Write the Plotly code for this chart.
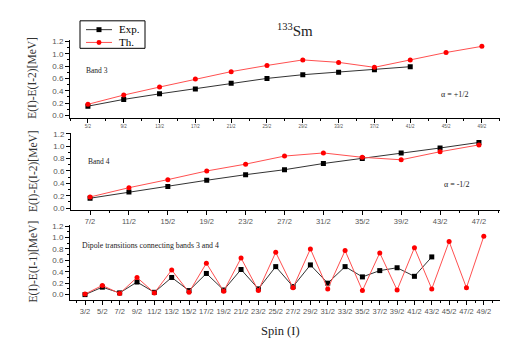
import plotly.graph_objects as go

W, H = 508, 338

# ---- data ----
b3_exp_spin = [2.5, 4.5, 6.5, 8.5, 10.5, 12.5, 14.5, 16.5, 18.5, 20.5]
b3_exp = [0.15, 0.26, 0.35, 0.43, 0.52, 0.60, 0.66, 0.70, 0.74, 0.79]
b3_th_spin = [2.5, 4.5, 6.5, 8.5, 10.5, 12.5, 14.5, 16.5, 18.5, 20.5, 22.5, 24.5]
b3_th = [0.18, 0.33, 0.46, 0.59, 0.71, 0.81, 0.90, 0.86, 0.78, 0.90, 1.02, 1.12]

b4_spin = [3.5, 5.5, 7.5, 9.5, 11.5, 13.5, 15.5, 17.5, 19.5, 21.5, 23.5]
b4_exp = [0.16, 0.26, 0.35, 0.45, 0.54, 0.62, 0.72, 0.80, 0.89, 0.97, 1.06]
b4_th = [0.18, 0.33, 0.46, 0.60, 0.71, 0.84, 0.89, 0.82, 0.78, 0.91, 1.02]

dip_exp_spin = [1.5, 2.5, 3.5, 4.5, 5.5, 6.5, 7.5, 8.5, 9.5, 10.5, 11.5, 12.5,
                13.5, 14.5, 15.5, 16.5, 17.5, 18.5, 19.5, 20.5, 21.5]
dip_exp = [0.00, 0.13, 0.03, 0.22, 0.04, 0.30, 0.07, 0.37, 0.08, 0.44, 0.10, 0.49,
           0.14, 0.52, 0.20, 0.49, 0.31, 0.42, 0.47, 0.32, 0.66]
dip_th_spin = [1.5, 2.5, 3.5, 4.5, 5.5, 6.5, 7.5, 8.5, 9.5, 10.5, 11.5, 12.5,
               13.5, 14.5, 15.5, 16.5, 17.5, 18.5, 19.5, 20.5, 21.5, 22.5, 23.5, 24.5]
dip_th = [0.01, 0.16, 0.02, 0.30, 0.03, 0.43, 0.04, 0.55, 0.06, 0.64, 0.07, 0.74,
          0.12, 0.80, 0.10, 0.77, 0.07, 0.73, 0.08, 0.82, 0.10, 0.93, 0.12, 1.02]

b3_ticks = [2.5 + 2 * i for i in range(12)]
b3_labels = ["5/2", "9/2", "13/2", "17/2", "21/2", "25/2", "29/2", "33/2", "37/2", "41/2", "45/2", "49/2"]
b4_ticks = [3.5 + 2 * i for i in range(11)]
b4_labels = ["7/2", "11/2", "15/2", "19/2", "23/2", "27/2", "31/2", "35/2", "39/2", "43/2", "47/2"]
dip_ticks = [1.5 + i for i in range(24)]
dip_labels = ["3/2", "5/2", "7/2", "9/2", "11/2", "13/2", "15/2", "17/2", "19/2", "21/2", "23/2", "25/2",
              "27/2", "29/2", "31/2", "33/2", "35/2", "37/2", "39/2", "41/2", "43/2", "45/2", "47/2", "49/2"]
y_ticks = [0.0, 0.2, 0.4, 0.6, 0.8, 1.0, 1.2]
y_labels = ["0.0", "0.2", "0.4", "0.6", "0.8", "1.0", "1.2"]
legend_names = ["Exp.", "Th."]

SERIF = "Liberation Serif, Times New Roman, serif"
SANS = "Liberation Sans, Arial, sans-serif"
BLACK = "#000000"
RED = "#ff0000"
EXP_LINE = "#333333"
TH_LINE = "#ff5050"

def px_x(p):
    return p / W

def px_y(p):
    return 1 - p / H

fig = go.Figure()

def add_pair(xs_e, ys_e, xs_t, ys_t, xa, ya):
    fig.add_trace(go.Scatter(x=xs_e, y=ys_e, mode="lines+markers", name=legend_names[0],
                             line=dict(color=EXP_LINE, width=1),
                             marker=dict(symbol="square", size=5, color=BLACK),
                             xaxis=xa, yaxis=ya, showlegend=False))
    fig.add_trace(go.Scatter(x=xs_t, y=ys_t, mode="lines+markers", name=legend_names[1],
                             line=dict(color=TH_LINE, width=1),
                             marker=dict(symbol="circle", size=5, color=RED),
                             xaxis=xa, yaxis=ya, showlegend=False))

add_pair(b3_exp_spin, b3_exp, b3_th_spin, b3_th, "x", "y")
add_pair(b4_spin, b4_exp, b4_spin, b4_th, "x2", "y2")
add_pair(dip_exp_spin, dip_exp, dip_th_spin, dip_th, "x3", "y3")

def xaxis(dom, rng, ticks, labels, minor_dt, minor_t0, fsize, anchor):
    return dict(domain=dom, range=rng, tickmode="array", tickvals=ticks, ticktext=labels,
                ticks="outside", ticklen=4, tickwidth=1, tickcolor=BLACK,
                showline=True, linecolor=BLACK, linewidth=1, showgrid=False, zeroline=False,
                tickfont=dict(family=SANS, size=fsize, color="#555555"), anchor=anchor,
                minor=dict(ticks="outside", dtick=minor_dt, tick0=minor_t0, ticklen=2,
                           tickcolor=BLACK, showgrid=False))

def yaxis(dom, rng, anchor):
    return dict(domain=dom, range=rng, tickmode="array", tickvals=y_ticks, ticktext=y_labels,
                ticks="outside", ticklen=4, tickwidth=1, tickcolor=BLACK,
                showline=True, linecolor=BLACK, linewidth=1, showgrid=False, zeroline=False,
                tickfont=dict(family=SANS, size=8, color="#555555"), anchor=anchor,
                minor=dict(ticks="outside", dtick=0.1, tick0=0, ticklen=2,
                           tickcolor=BLACK, showgrid=False))

fig.update_layout(
    width=W, height=H,
    margin=dict(l=0, r=0, t=0, b=0),
    paper_bgcolor="white", plot_bgcolor="white",
    xaxis=xaxis([px_x(62), px_x(507)], [1.5, 26.35], b3_ticks, b3_labels, 1, 1.5, 4.5, "y"),
    yaxis=yaxis([px_y(108.7), px_y(29.7)], [-0.038, 1.22], "x"),
    xaxis2=xaxis([px_x(63), px_x(497)], [2.52, 24.84], b4_ticks, b4_labels, 1, 1.5, 7.5, "y2"),
    yaxis2=yaxis([px_y(202.3), px_y(123.7)], [-0.025, 1.22], "x2"),
    xaxis3=xaxis([px_x(62), px_x(507)], [0.635, 26.3], dip_ticks, dip_labels, 0.5, 1.0, 7.5, "y3"),
    yaxis3=yaxis([px_y(294.3), px_y(217.8)], [-0.096, 1.22], "x3"),
    showlegend=False,
)

def note(text, x, y, size, xanchor="left", angle=0, color="#222222"):
    fig.add_annotation(text=text, x=px_x(x), y=px_y(y), xref="paper", yref="paper",
                       xanchor=xanchor, yanchor="middle", showarrow=False, textangle=angle,
                       font=dict(family=SERIF, size=size, color=color))

# y-axis titles
note("E(I)-E(I-2)[MeV]", 25, 68, 11.5, xanchor="center", angle=-90, color="#333333")
note("E(I)-E(I-2)[MeV]", 25, 163, 11.5, xanchor="center", angle=-90, color="#333333")
note("E(I)-E(I-1)[MeV]", 25, 255, 11.5, xanchor="center", angle=-90, color="#333333")

note("<sup>133</sup>Sm", 267, 19, 15)
note("Band 3", 76, 61, 7.5)
note("α = +1/2", 431, 85, 8)
note("Band 4", 78, 153, 7.5)
note("α = -1/2", 434, 177, 8)
note("Dipole transitions connecting bands 3 and 4", 72, 239, 7.8)
note("Spin (I)", 251, 326, 12.5)

# legend box (drawn in paper coords)
fig.add_shape(type="rect", xref="paper", yref="paper",
              x0=px_x(72), x1=px_x(137), y0=px_y(38), y1=px_y(10),
              line=dict(color=BLACK, width=1), fillcolor="white")
for yy, lc, mc, sym in [(19, EXP_LINE, BLACK, "square"), (32, TH_LINE, RED, "circle")]:
    fig.add_shape(type="line", xref="paper", yref="paper",
                  x0=px_x(78), x1=px_x(104), y0=px_y(yy), y1=px_y(yy),
                  line=dict(color=lc, width=1))
    fig.add_shape(type="rect" if sym == "square" else "circle", xref="paper", yref="paper",
                  x0=px_x(88.5), x1=px_x(93.5), y0=px_y(yy + 2.5), y1=px_y(yy - 2.5),
                  line=dict(color=mc, width=0), fillcolor=mc)
note(legend_names[0], 109, 18.5, 11, color=BLACK)
note(legend_names[1], 109, 31.5, 11, color=BLACK)

fig.write_html("out.html")
